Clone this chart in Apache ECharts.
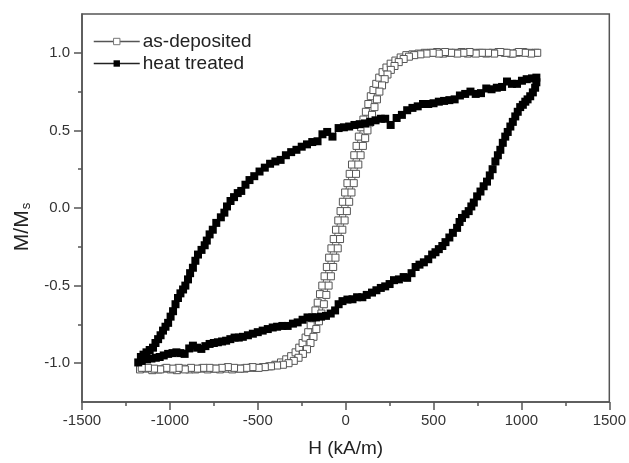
<!DOCTYPE html>
<html>
<head>
<meta charset="utf-8">
<script src="https://cdn.jsdelivr.net/npm/echarts@6/dist/echarts.min.js"></script>
<style>
html,body{margin:0;padding:0;background:#fff;}
#chart{width:629px;height:463px;}
</style>
</head>
<body>
<div id="chart"></div>
<script>
// Axis ticks
var xTicks = [-1500, -1000, -500, 0, 500, 1000, 1500];
var yLabelTicks = [-1.0, -0.5, 0.0, 0.5, 1.0];
var yMinorTicks = [-0.75, -0.25, 0.25, 0.75];

// As-deposited: ascending branch [H, M/Ms]
var asDepAsc = [
[-1170,-1.04],[-1135,-1.035],[-1100,-1.045],[-1065,-1.04],[-1030,-1.035],[-995,-1.04],[-960,-1.045],[-925,-1.035],
[-890,-1.04],[-855,-1.04],[-820,-1.035],[-785,-1.04],[-750,-1.035],[-715,-1.04],[-680,-1.035],[-645,-1.04],
[-610,-1.035],[-575,-1.035],[-540,-1.03],[-505,-1.03],[-470,-1.025],[-435,-1.02],[-400,-1.01],[-368,-0.995],
[-338,-0.975],[-310,-0.955],[-285,-0.93],[-264,-0.9],[-245,-0.87],[-228,-0.835],[-213,-0.8],[-199,-0.755],
[-185,-0.71],[-172,-0.66],[-159,-0.61],[-146,-0.555],[-133,-0.5],[-120,-0.44],[-107,-0.38],[-94,-0.32],
[-81,-0.26],[-68,-0.2],[-55,-0.14],[-42,-0.08],[-29,-0.02],[-16,0.04],[-3,0.1],[10,0.16],[23,0.22],[36,0.28],
[49,0.34],[62,0.4],[75,0.46],[88,0.52],[101,0.57],[115,0.62],[129,0.67],[143,0.72],[158,0.76],[174,0.8],
[191,0.84],[210,0.875],[232,0.905],[256,0.93],[283,0.95],[313,0.97],[345,0.985],[380,0.99],[415,0.995],
[450,1.0],[485,1.0],[520,1.005],[555,0.995],[590,1.0],[625,1.0],[660,1.005],[695,0.995],[730,1.0],[765,1.0],
[800,0.995],[835,1.0],[870,1.005],[905,1.0],[940,0.995],[975,1.0],[1010,1.005],[1045,1.0],[1080,1.0]
];
// As-deposited: descending branch
var asDepDesc = [
[1090,1.0],[1055,0.995],[1020,1.0],[985,1.005],[950,0.995],[915,1.0],[880,1.005],[845,0.995],[810,1.0],
[775,1.0],[740,0.995],[705,1.005],[670,1.0],[635,0.995],[600,1.0],[565,1.005],[530,0.995],[495,1.0],
[460,0.995],[425,0.99],[390,0.985],[360,0.975],[330,0.96],[302,0.94],[278,0.915],[257,0.89],[238,0.86],
[222,0.83],[207,0.79],[192,0.75],[178,0.7],[164,0.65],[150,0.6],[137,0.55],[124,0.5],[111,0.45],[98,0.4],
[85,0.34],[72,0.28],[59,0.22],[46,0.16],[33,0.1],[20,0.04],[7,-0.02],[-6,-0.08],[-19,-0.14],[-32,-0.2],
[-45,-0.26],[-58,-0.32],[-71,-0.38],[-84,-0.44],[-97,-0.5],[-110,-0.56],[-124,-0.62],[-138,-0.68],
[-152,-0.73],[-167,-0.78],[-183,-0.83],[-200,-0.87],[-220,-0.91],[-243,-0.94],[-268,-0.965],[-295,-0.985],
[-325,-1.0],[-357,-1.01],[-390,-1.015],[-425,-1.02],[-460,-1.025],[-495,-1.03],[-530,-1.025],[-565,-1.03],
[-600,-1.035],[-635,-1.03],[-670,-1.025],[-705,-1.03],[-740,-1.035],[-775,-1.03],[-810,-1.03],[-845,-1.035],
[-880,-1.03],[-915,-1.04],[-950,-1.03],[-985,-1.035],[-1020,-1.03],[-1055,-1.04],[-1090,-1.035],[-1125,-1.03],[-1160,-1.03]
];

// Heat treated: descending branch
var heatDesc = [
[1085,0.84],[1060,0.835],[1030,0.83],[1003,0.82],[975,0.8],[946,0.8],[918,0.815],[890,0.78],[860,0.775],
[830,0.765],[800,0.77],[770,0.74],[740,0.735],[710,0.75],[680,0.735],[650,0.725],[620,0.7],[590,0.695],
[560,0.69],[530,0.685],[500,0.675],[470,0.67],[440,0.67],[410,0.655],[380,0.645],[350,0.63],[320,0.6],
[290,0.58],[256,0.535],[225,0.575],[200,0.575],[170,0.565],[140,0.555],[110,0.545],[80,0.54],[50,0.535],
[20,0.525],[-10,0.52],[-40,0.515],[-75,0.46],[-105,0.49],[-132,0.475],[-160,0.43],[-190,0.425],[-220,0.41],
[-250,0.395],[-280,0.375],[-310,0.36],[-340,0.34],[-370,0.31],[-400,0.3],[-430,0.285],[-460,0.26],
[-490,0.235],[-520,0.205],[-547,0.18],[-570,0.15],[-594,0.11],[-614,0.096],[-635,0.07],[-655,0.045],
[-675,0.01],[-690,-0.03],[-710,-0.06],[-736,-0.096],[-756,-0.14],[-774,-0.17],[-790,-0.21],[-802,-0.24],
[-820,-0.27],[-840,-0.3],[-855,-0.34],[-869,-0.385],[-885,-0.42],[-897,-0.46],[-912,-0.5],[-925,-0.525],
[-940,-0.55],[-954,-0.58],[-968,-0.62],[-982,-0.665],[-996,-0.7],[-1010,-0.74],[-1025,-0.765],[-1039,-0.79],
[-1053,-0.82],[-1067,-0.845],[-1082,-0.87],[-1096,-0.9],[-1115,-0.915],[-1133,-0.93],[-1150,-0.945],
[-1165,-0.96],[-1180,-0.995]
];
// Heat treated: ascending branch
var heatAsc = [
[-1160,-0.985],[-1130,-0.975],[-1105,-0.97],[-1080,-0.965],[-1058,-0.96],[-1035,-0.95],[-1010,-0.94],
[-985,-0.935],[-963,-0.93],[-940,-0.935],[-916,-0.94],[-890,-0.905],[-869,-0.887],[-845,-0.9],[-821,-0.908],
[-798,-0.89],[-774,-0.876],[-750,-0.87],[-727,-0.865],[-703,-0.86],[-680,-0.855],[-656,-0.845],[-632,-0.835],
[-608,-0.835],[-585,-0.83],[-556,-0.82],[-528,-0.81],[-500,-0.8],[-472,-0.79],[-443,-0.78],[-415,-0.77],
[-390,-0.765],[-360,-0.76],[-330,-0.76],[-300,-0.745],[-273,-0.737],[-245,-0.72],[-217,-0.705],[-190,-0.705],
[-169,-0.705],[-140,-0.7],[-112,-0.695],[-85,-0.68],[-60,-0.66],[-40,-0.62],[-18,-0.6],[10,-0.59],[39,-0.588],
[65,-0.575],[95,-0.575],[120,-0.56],[150,-0.545],[175,-0.53],[200,-0.515],[225,-0.505],[250,-0.49],
[275,-0.465],[303,-0.46],[330,-0.445],[350,-0.45],[375,-0.42],[398,-0.38],[420,-0.365],[445,-0.35],
[470,-0.33],[492,-0.3],[511,-0.285],[530,-0.265],[550,-0.245],[568,-0.22],[590,-0.19],[610,-0.16],
[634,-0.128],[648,-0.09],[662,-0.064],[682,-0.04],[700,-0.02],[715,0.01],[729,0.035],[748,0.075],
[767,0.106],[785,0.14],[804,0.17],[820,0.21],[836,0.25],[852,0.3],[866,0.34],[880,0.375],[894,0.42],
[908,0.46],[922,0.49],[937,0.525],[951,0.555],[965,0.59],[979,0.62],[993,0.65],[1008,0.665],[1022,0.685],
[1035,0.7],[1050,0.72],[1065,0.745],[1078,0.775],[1085,0.81]
];

var FONT = '"Liberation Sans", Arial, sans-serif';
var chart = echarts.init(document.getElementById('chart'));
chart.setOption({
  animation: false,
  backgroundColor: '#fff',
  grid: { left: 82, right: 18, top: 14, bottom: 60, show: true, borderColor: '#555', borderWidth: 1.5, backgroundColor: 'transparent' },
  legend: {
    orient: 'vertical', left: 88, top: 27, itemWidth: 46, itemHeight: 8, itemGap: 3,
    textStyle: { fontFamily: FONT, fontSize: 19, color: '#222', padding: [0, 0, 0, -2] },
    data: [
      { name: 'as-deposited', itemStyle: { color: '#fff', borderColor: '#777', borderWidth: 1 }, lineStyle: { color: '#555', width: 1.5 } },
      { name: 'heat treated', itemStyle: { color: '#000' }, lineStyle: { color: '#222', width: 1.5 } }
    ]
  },
  xAxis: {
    type: 'value', min: -1500, max: 1500, interval: 500,
    name: 'H (kA/m)', nameLocation: 'middle', nameGap: 37,
    nameTextStyle: { fontFamily: FONT, fontSize: 19, color: '#222' },
    axisLine: { show: true, onZero: false, lineStyle: { color: '#555', width: 1.5 } },
    axisTick: { show: true, length: 8, lineStyle: { color: '#555', width: 1.5 } },
    minorTick: { show: true, splitNumber: 2, length: 4, lineStyle: { color: '#555', width: 1.5 } },
    axisLabel: { fontFamily: FONT, fontSize: 15, color: '#333', margin: 11,
      customValues: xTicks, formatter: function (v) { return String(v); } },
    splitLine: { show: false }
  },
  yAxis: [{
    type: 'value', min: -1.25, max: 1.25,
    name: 'M/M{sub|s}', nameLocation: 'middle', nameGap: 49,
    nameTextStyle: { fontFamily: FONT, fontSize: 21, color: '#222', padding: [0, 38, 0, 0],
      rich: { sub: { fontFamily: FONT, fontSize: 13, color: '#222', padding: [9, 0, 0, 1] } } },
    axisLine: { show: true, onZero: false, lineStyle: { color: '#555', width: 1.5 } },
    axisTick: { show: true, length: 8, customValues: yLabelTicks, lineStyle: { color: '#555', width: 1.5 } },
    axisLabel: { fontFamily: FONT, fontSize: 15, color: '#333', margin: 12,
      customValues: yLabelTicks, formatter: function (v) { return v.toFixed(1); } },
    splitLine: { show: false }
  }, {
    type: 'value', min: -1.25, max: 1.25, position: 'left',
    axisLine: { show: false, onZero: false },
    axisTick: { show: true, length: 4, customValues: yMinorTicks, lineStyle: { color: '#555', width: 1.5 } },
    axisLabel: { show: false },
    splitLine: { show: false }
  }],
  series: [{
    name: 'as-deposited', type: 'line', data: asDepAsc.concat(asDepDesc),
    symbol: 'rect', symbolSize: 7, showAllSymbol: true,
    lineStyle: { color: '#666', width: 1 },
    itemStyle: { color: '#fff', borderColor: '#555', borderWidth: 1 },
    z: 3
  }, {
    name: 'heat treated', type: 'line', data: heatDesc.concat(heatAsc),
    symbol: 'rect', symbolSize: 8, showAllSymbol: true,
    lineStyle: { color: '#111', width: 1 },
    itemStyle: { color: '#000', borderColor: '#000', borderWidth: 0 },
    z: 4
  }]
});
</script>
</body>
</html>
